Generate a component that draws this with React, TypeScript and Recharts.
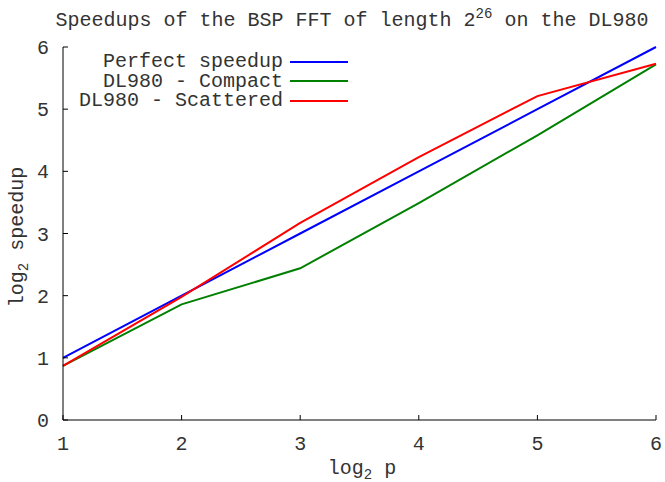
import React from 'react';
import { LineChart, Line, XAxis, YAxis, Label } from 'recharts';

const logP = [1, 2, 3, 4, 5, 6];
const perfect = [1, 2, 3, 4, 5, 6];
const compact = [0.87, 1.86, 2.44, 3.49, 4.58, 5.72];
const scattered = [0.87, 1.98, 3.17, 4.23, 5.21, 5.73];
const ticksX = [1, 2, 3, 4, 5, 6];
const ticksY = [0, 1, 2, 3, 4, 5, 6];

const series = [
  { key: 'perfect', name: 'Perfect speedup', color: '#0000ff' },
  { key: 'compact', name: 'DL980 - Compact', color: '#008000' },
  { key: 'scattered', name: 'DL980 - Scattered', color: '#ff0000' },
];

const data = logP.map((p, i) => ({
  p,
  perfect: perfect[i],
  compact: compact[i],
  scattered: scattered[i],
}));

const FONT = '"Liberation Mono", "DejaVu Sans Mono", monospace';
const TXT = '#333';

// legend drawn as an overlay, gnuplot style (text right aligned, sample on the right)
const LegendBox = () => (
  <div style={{ position: 'absolute', left: 0, top: 52, width: 348, fontFamily: FONT, fontSize: 20, color: TXT }}>
    {series.map((s) => (
      <div key={s.key} style={{ display: 'flex', alignItems: 'center', justifyContent: 'flex-end', height: 19.5 }}>
        <span style={{ whiteSpace: 'pre', lineHeight: '17px', height: 17 }}>{s.name}</span>
        <span style={{ display: 'inline-block', width: 58, height: 2, background: s.color, marginLeft: 7 }} />
      </div>
    ))}
  </div>
);

export default function App() {
  return (
    <div style={{ position: 'absolute', left: 0, top: 0, width: 665, height: 482, background: '#fff' }}>
      <LineChart width={665} height={482} data={data} margin={{ top: 47, right: 9, left: 0, bottom: 0 }}>
        <XAxis
          dataKey="p"
          type="number"
          domain={[1, 6]}
          ticks={ticksX}
          height={62}
          stroke="#000"
          tickSize={-5}
          tickMargin={21}
          tick={{ fill: TXT, fontSize: 20, fontFamily: FONT }}
        >
          <Label
            content={() => (
              <text x={362} y={474} textAnchor="middle" fill={TXT} fontSize={20} fontFamily={FONT}>
                log<tspan fontSize={14} dy={5}>2</tspan>
                <tspan dy={-5}> p</tspan>
              </text>
            )}
          />
        </XAxis>
        <XAxis
          xAxisId="top"
          dataKey="p"
          orientation="top"
          type="number"
          domain={[1, 6]}
          ticks={ticksX}
          height={0}
          stroke="#000"
          tickSize={-5}
          tickFormatter={() => ''}
        />
        <YAxis
          type="number"
          domain={[0, 6]}
          ticks={ticksY}
          width={63}
          stroke="#000"
          tickSize={-5}
          tickMargin={19}
          tick={{ fill: TXT, fontSize: 20, fontFamily: FONT }}
        >
          <Label
            content={() => (
              <text transform="translate(23,237) rotate(-90)" textAnchor="middle" fill={TXT} fontSize={20} fontFamily={FONT}>
                log<tspan fontSize={14} dy={5}>2</tspan>
                <tspan dy={-5}> speedup</tspan>
              </text>
            )}
          />
        </YAxis>
        <YAxis
          yAxisId="right"
          orientation="right"
          type="number"
          domain={[0, 6]}
          ticks={ticksY}
          width={0}
          stroke="#000"
          tickSize={-5}
          tickFormatter={() => ''}
        />
        {/* invisible series so the mirror axes (top/right border + ticks) get drawn */}
        <Line
          xAxisId="top"
          yAxisId="right"
          dataKey="perfect"
          stroke="none"
          dot={false}
          legendType="none"
          isAnimationActive={false}
        />
        {series.map((s) => (
          <Line
            key={s.key}
            dataKey={s.key}
            name={s.name}
            stroke={s.color}
            strokeWidth={2}
            dot={false}
            type="linear"
            isAnimationActive={false}
          />
        ))}
      </LineChart>
      <div
        style={{
          position: 'absolute',
          left: 0,
          top: 6,
          width: 704,
          textAlign: 'center',
          fontFamily: FONT,
          fontSize: 20,
          color: TXT,
          whiteSpace: 'pre',
        }}
      >
        Speedups of the BSP FFT of length 2<sup style={{ fontSize: 14, verticalAlign: 8 }}>26</sup> on the DL980
      </div>
      <LegendBox />
    </div>
  );
}
